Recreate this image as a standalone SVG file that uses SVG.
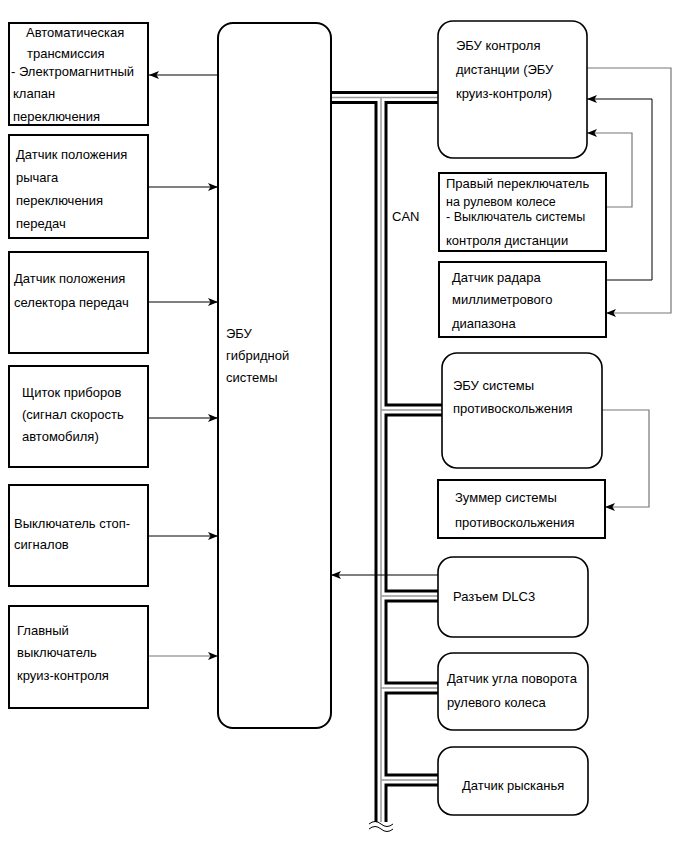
<svg xmlns="http://www.w3.org/2000/svg" width="690" height="854" viewBox="0 0 690 854">
<style>
.box{fill:#fff;stroke:#000;stroke-width:2}
.rbox{fill:#fff;stroke:#000;stroke-width:1.6}
.t{font-family:"Liberation Sans",Arial,sans-serif;font-size:13px;fill:#000}
.ts{font-size:12.5px}
.ln{fill:none;stroke:#000;stroke-width:1}
.lg{fill:none;stroke:#777;stroke-width:1.2}
.cb{fill:none;stroke:#000;stroke-width:13}
.cw{fill:none;stroke:#fff;stroke-width:7}
.cg{fill:none;stroke:#999;stroke-width:1.5}
</style>
<defs>
<marker id="ah" viewBox="0 0 10 8" refX="10" refY="4" markerWidth="10" markerHeight="8" markerUnits="userSpaceOnUse" orient="auto">
<path d="M0,0 L10,4 L0,8 L2.5,4 z" fill="#000"/>
</marker>
</defs>
<rect width="690" height="854" fill="#fff"/>

<g id="connectors">
<g id="bus">
<path class="cb" d="M331,97.5 H441 M381,97.5 V822 M381,410 H442 M381,596 H438 M381,688 H438 M381,780 H438"/>
<path class="cw" d="M331,97.5 H441 M381,97.5 V822 M381,410 H442 M381,596 H438 M381,688 H438 M381,780 H438"/>
<path class="cg" d="M331,97.5 H441 M381,97.5 V822 M381,410 H442 M381,596 H438 M381,688 H438 M381,780 H438"/>
<path d="M369,824 q6,-5 12,0 t12,0" fill="none" stroke="#000" stroke-width="1"/>
<path d="M369,829 q6,-5 12,0 t12,0" fill="none" stroke="#000" stroke-width="1"/>
</g>
<path class="ln" d="M218,75 H149" marker-end="url(#ah)"/>
<path class="ln" d="M148,187 H218" marker-end="url(#ah)"/>
<path class="ln" d="M148,302 H218" marker-end="url(#ah)"/>
<path class="ln" d="M148,418 H218" marker-end="url(#ah)"/>
<path class="ln" d="M148,536 H218" marker-end="url(#ah)"/>
<path class="lg" d="M148,656 H218" marker-end="url(#ah)"/>
<path class="ln" d="M438,575 H331" marker-end="url(#ah)"/>
<path class="lg" d="M587,68 H671 V313 H606" marker-end="url(#ah)"/>
<path class="ln" d="M606,280 H652 V99 H587" marker-end="url(#ah)"/>
<path class="lg" d="M606,207 H632 V133 H587" marker-end="url(#ah)"/>
<path class="lg" d="M602,410 H649 V507 H605" marker-end="url(#ah)"/>
<text class="t" x="392" y="221">CAN</text>
</g>

<g id="n1">
<rect class="box" x="9" y="23" width="139" height="102"/>
<text class="t" x="26" y="37">Автоматическая</text>
<text class="t" x="27" y="58">трансмиссия</text>
<text class="t" x="11" y="76">- Электромагнитный</text>
<text class="t" x="13" y="98">клапан</text>
<text class="t" x="13" y="121">переключения</text>
</g>
<g id="n2">
<rect class="box" x="9" y="135" width="139" height="103"/>
<text class="t" x="16" y="159">Датчик положения</text>
<text class="t" x="16" y="182">рычага</text>
<text class="t" x="16" y="205">переключения</text>
<text class="t" x="16" y="228">передач</text>
</g>
<g id="n3">
<rect class="box" x="9" y="252" width="139" height="101"/>
<text class="t" x="14" y="283">Датчик положения</text>
<text class="t" x="14" y="307">селектора передач</text>
</g>
<g id="n4">
<rect class="box" x="9" y="366" width="139" height="101"/>
<text class="t" x="22" y="397">Щиток приборов</text>
<text class="t" x="22" y="419">(сигнал скорость</text>
<text class="t" x="22" y="441">автомобиля)</text>
</g>
<g id="n5">
<rect class="box" x="9" y="485" width="139" height="101"/>
<text class="t" x="14" y="528">Выключатель стоп-</text>
<text class="t" x="14" y="549">сигналов</text>
</g>
<g id="n6">
<rect class="box" x="9" y="606" width="139" height="102"/>
<text class="t" x="17" y="635">Главный</text>
<text class="t" x="17" y="657">выключатель</text>
<text class="t" x="17" y="680">круиз-контроля</text>
</g>
<g id="ecu-hybrid">
<rect class="box" x="218" y="23" width="113" height="705" rx="15"/>
<text class="t" x="226" y="338">ЭБУ</text>
<text class="t" x="226" y="360">гибридной</text>
<text class="t" x="226" y="382">системы</text>
</g>
<g id="ecu-distance">
<rect class="rbox" x="438" y="21" width="149" height="137" rx="15"/>
<text class="t" x="456" y="50">ЭБУ контроля</text>
<text class="t" x="456" y="74">дистанции (ЭБУ</text>
<text class="t" x="456" y="98">круиз-контроля)</text>
</g>
<g id="switch">
<rect class="box" x="439" y="173" width="167" height="78"/>
<text class="t" x="446" y="188">Правый переключатель</text>
<text class="t ts" x="446" y="206">на рулевом колесе</text>
<text class="t ts" x="446" y="221">- Выключатель системы</text>
<text class="t" x="446" y="245">контроля дистанции</text>
</g>
<g id="radar">
<rect class="box" x="439" y="262" width="167" height="75"/>
<text class="t" x="452" y="282">Датчик радара</text>
<text class="t" x="452" y="304">миллиметрового</text>
<text class="t" x="452" y="328">диапазона</text>
</g>
<g id="ecu-skid">
<rect class="rbox" x="442" y="353" width="160" height="115" rx="15"/>
<text class="t" x="453" y="390">ЭБУ системы</text>
<text class="t" x="453" y="413">противоскольжения</text>
</g>
<g id="buzzer">
<rect class="box" x="438" y="480" width="167" height="58"/>
<text class="t" x="455" y="502">Зуммер системы</text>
<text class="t" x="455" y="527">противоскольжения</text>
</g>
<g id="dlc3">
<rect class="rbox" x="438" y="557" width="150" height="80" rx="15"/>
<text class="t" x="453" y="601">Разъем DLC3</text>
</g>
<g id="steer">
<rect class="rbox" x="438" y="653" width="150" height="77" rx="15"/>
<text class="t" x="447" y="683">Датчик угла поворота</text>
<text class="t" x="447" y="707">рулевого колеса</text>
</g>
<g id="yaw">
<rect class="rbox" x="438" y="747" width="150" height="68" rx="15"/>
<text class="t" x="462" y="790">Датчик рысканья</text>
</g>
</svg>
